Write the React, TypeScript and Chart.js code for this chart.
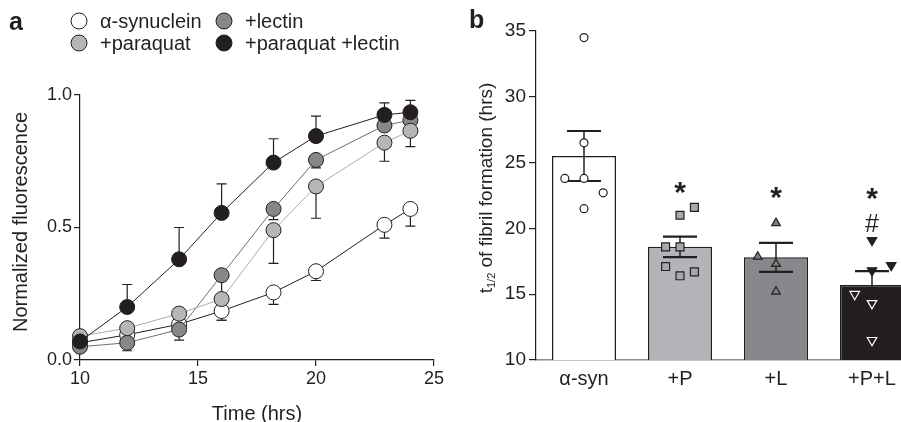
import React, { useEffect, useRef } from 'react';
import { Chart, registerables } from 'chart.js';

Chart.register(...registerables);

const FONT = '"Liberation Sans", Arial, Helvetica, sans-serif';
const INK = '#231f20';

// ---------- Panel a: fluorescence time course ----------
const timePoints = [10, 12, 14.2, 16, 18.2, 20, 22.9, 24];
const synuclein = [0.065, 0.095, 0.135, 0.185, 0.255, 0.335, 0.51, 0.57];
const synucleinErrDown = [0, 0, 0.03, 0.035, 0.045, 0.035, 0.05, 0.065];
const paraquat = [0.09, 0.12, 0.175, 0.23, 0.49, 0.655, 0.82, 0.865];
const paraquatErrDown = [0, 0, 0, 0.08, 0.125, 0.12, 0.07, 0.06];
const lectin = [0.05, 0.065, 0.115, 0.32, 0.57, 0.755, 0.885, 0.905];
const lectinErrDown = [0, 0.03, 0.04, 0.1, 0.04, 0.03, 0.02, 0.02];
const paraquatLectin = [0.07, 0.2, 0.38, 0.555, 0.745, 0.845, 0.925, 0.935];
const paraquatLectinErrUp = [0, 0.085, 0.12, 0.11, 0.09, 0.075, 0.045, 0.045];
const legendLabels = ['α-synuclein', '+lectin', '+paraquat', '+paraquat +lectin'];

// ---------- Panel b: t1/2 of fibril formation ----------
const groups = ['α-syn', '+P', '+L', '+P+L'];
const groupMeans = [25.5, 18.6, 17.8, 15.7];
const groupSem = [1.9, 0.78, 1.1, 1.06];
const synPoints = [34.5, 26.5, 23.8, 23.8, 22.7, 21.5];
const synJitter = [0, 0, -0.2, 0, 0.2, 0];
const pPoints = [21.0, 21.6, 18.6, 18.6, 17.1, 16.7, 16.4];
const pJitter = [0, 0.15, -0.15, 0, -0.15, 0.15, 0];
const lPoints = [20.4, 17.85, 17.3, 15.2];
const lJitter = [0, -0.19, 0, 0];
const plPoints = [19.1, 16.8, 17.2, 15.0, 14.3, 11.5];
const plJitter = [0, 0, 0.2, -0.18, 0, 0];
const marks = [
  { group: 1, value: 23.1, text: '*' },
  { group: 2, value: 22.7, text: '*' },
  { group: 3, value: 22.6, text: '*' },
  { group: 3, value: 20.4, text: '#' },
];

const seriesA = [
  { label: legendLabels[3], values: paraquatLectin, up: paraquatLectinErrUp, down: null, fill: '#231f20', line: '#231f20' },
  { label: legendLabels[2], values: paraquat, up: null, down: paraquatErrDown, fill: '#b5b6b8', line: '#a9abae' },
  { label: legendLabels[1], values: lectin, up: null, down: lectinErrDown, fill: '#86878a', line: '#6d6e71' },
  { label: legendLabels[0], values: synuclein, up: null, down: synucleinErrDown, fill: '#ffffff', line: '#231f20' },
];

function drawVTitle(ctx: CanvasRenderingContext2D, cx: number, cy: number, parts: { t: string; size: number; dy: number }[]) {
  ctx.save();
  ctx.translate(cx, cy);
  ctx.rotate(-Math.PI / 2);
  ctx.fillStyle = INK;
  ctx.textBaseline = 'alphabetic';
  ctx.textAlign = 'left';
  let total = 0;
  const widths = parts.map((p) => {
    ctx.font = `${p.size}px ${FONT}`;
    const w = ctx.measureText(p.t).width;
    total += w;
    return w;
  });
  let x = -total / 2;
  parts.forEach((p, i) => {
    ctx.font = `${p.size}px ${FONT}`;
    ctx.fillText(p.t, x, 7 + p.dy);
    x += widths[i];
  });
  ctx.restore();
}

const panelAPlugin = {
  id: 'panelA',
  beforeDatasetsDraw(chart: any) {
    const ctx = chart.ctx as CanvasRenderingContext2D;
    const ys = chart.scales.y;
    ctx.save();
    ctx.strokeStyle = INK;
    ctx.lineWidth = 1.2;
    seriesA.forEach((s, di) => {
      const meta = chart.getDatasetMeta(di);
      meta.data.forEach((pt: any, i: number) => {
        const v = s.values[i];
        const errs: number[] = [];
        if (s.up && s.up[i] > 0) errs.push(v + s.up[i]);
        if (s.down && s.down[i] > 0) errs.push(v - s.down[i]);
        errs.forEach((e) => {
          const ey = ys.getPixelForValue(e);
          ctx.beginPath();
          ctx.moveTo(pt.x, pt.y);
          ctx.lineTo(pt.x, ey);
          ctx.moveTo(pt.x - 5, ey);
          ctx.lineTo(pt.x + 5, ey);
          ctx.stroke();
        });
      });
    });
    ctx.restore();
  },
  afterDraw(chart: any) {
    const ctx = chart.ctx as CanvasRenderingContext2D;
    const area = chart.chartArea;
    ctx.save();
    ctx.fillStyle = INK;
    ctx.font = `bold 25px ${FONT}`;
    ctx.textBaseline = 'middle';
    ctx.textAlign = 'left';
    ctx.fillText('a', 9, 23);
    const items = [
      { s: seriesA[3], x: 79, y: 21 },
      { s: seriesA[2], x: 224, y: 21 },
      { s: seriesA[1], x: 79, y: 43 },
      { s: seriesA[0], x: 224, y: 43 },
    ];
    items.forEach((it) => {
      ctx.beginPath();
      ctx.arc(it.x, it.y, 8, 0, Math.PI * 2);
      ctx.fillStyle = it.s.fill;
      ctx.fill();
      ctx.lineWidth = 1;
      ctx.strokeStyle = INK;
      ctx.stroke();
      ctx.fillStyle = INK;
      ctx.font = `20px ${FONT}`;
      ctx.textBaseline = 'middle';
      ctx.fillText(it.s.label, it.x + 21, it.y + 1);
    });
    ctx.font = `20px ${FONT}`;
    ctx.textAlign = 'center';
    ctx.textBaseline = 'middle';
    ctx.fillText('Time (hrs)', (area.left + area.right) / 2, 414);
    ctx.restore();
    drawVTitle(ctx, 20, 222, [{ t: 'Normalized fluorescence', size: 20, dy: 0 }]);
  },
};

const panelBPlugin = {
  id: 'panelB',
  afterDatasetDraw(chart: any, args: any) {
    if (args.index !== 0) return;
    const ctx = chart.ctx as CanvasRenderingContext2D;
    const ys = chart.scales.y;
    const meta = chart.getDatasetMeta(0);
    ctx.save();
    ctx.strokeStyle = INK;
    meta.data.forEach((bar: any, i: number) => {
      const top = ys.getPixelForValue(groupMeans[i] + groupSem[i]);
      const bot = ys.getPixelForValue(groupMeans[i] - groupSem[i]);
      ctx.lineWidth = 1.5;
      ctx.beginPath();
      ctx.moveTo(bar.x, top);
      ctx.lineTo(bar.x, bot);
      ctx.stroke();
      ctx.lineWidth = 2.2;
      ctx.beginPath();
      ctx.moveTo(bar.x - 17, top);
      ctx.lineTo(bar.x + 17, top);
      ctx.moveTo(bar.x - 17, bot);
      ctx.lineTo(bar.x + 17, bot);
      ctx.stroke();
    });
    ctx.restore();
  },
  afterDraw(chart: any) {
    const ctx = chart.ctx as CanvasRenderingContext2D;
    const xs = chart.scales.xs;
    const ys = chart.scales.y;
    ctx.save();
    ctx.fillStyle = INK;
    ctx.textAlign = 'center';
    ctx.textBaseline = 'alphabetic';
    marks.forEach((m) => {
      ctx.font = m.text === '*' ? `bold 30px ${FONT}` : `25px ${FONT}`;
      const mt = ctx.measureText(m.text);
      const cx = xs.getPixelForValue(m.group);
      const cy = ys.getPixelForValue(m.value);
      const base = cy + (mt.actualBoundingBoxAscent - mt.actualBoundingBoxDescent) / 2;
      ctx.fillText(m.text, cx, base);
    });
    ctx.font = `bold 25px ${FONT}`;
    ctx.textAlign = 'left';
    ctx.textBaseline = 'middle';
    ctx.fillText('b', 9, 21);
    ctx.restore();
    drawVTitle(ctx, 25, 188, [
      { t: 't', size: 19, dy: 0 },
      { t: '1/2', size: 11, dy: 3 },
      { t: ' of fibril formation (hrs)', size: 19, dy: 0 },
    ]);
  },
};

function makeConfigA(): any {
  return {
    type: 'line',
    data: {
      datasets: seriesA.map((s) => ({
        label: s.label,
        data: timePoints.map((t, i) => ({ x: t, y: s.values[i] })),
        borderColor: s.line,
        borderWidth: 1,
        backgroundColor: s.fill,
        pointBackgroundColor: s.fill,
        pointBorderColor: INK,
        pointBorderWidth: 1,
        pointRadius: 7.5,
        pointHoverRadius: 7.5,
        tension: 0,
        clip: false,
      })),
    },
    options: {
      responsive: false,
      animation: false,
      devicePixelRatio: 1,
      events: [],
      layout: { padding: { top: 95, left: 0, right: 26, bottom: 0 } },
      plugins: { legend: { display: false }, tooltip: { enabled: false } },
      scales: {
        x: {
          type: 'linear',
          min: 10,
          max: 25,
          afterFit: (s: any) => { s.height = 62; },
          ticks: { stepSize: 5, font: { family: FONT, size: 18 }, color: INK, padding: 2 },
          grid: { drawOnChartArea: false, drawTicks: true, tickLength: 6, color: INK, lineWidth: 1.2 },
          border: { display: true, color: INK, width: 1.2 },
        },
        y: {
          min: 0,
          max: 1,
          afterFit: (s: any) => { s.width = 80; },
          ticks: { stepSize: 0.5, font: { family: FONT, size: 18 }, color: INK, padding: 2, callback: (v: number) => v.toFixed(1) },
          grid: { drawOnChartArea: false, drawTicks: true, tickLength: 6, color: INK, lineWidth: 1.2 },
          border: { display: true, color: INK, width: 1.2 },
        },
      },
    },
    plugins: [panelAPlugin],
  };
}

function scatterSet(values: number[], jitter: number[], group: number, style: any) {
  return {
    type: 'scatter',
    xAxisID: 'xs',
    order: 0,
    data: values.map((v, i) => ({ x: group + jitter[i], y: v })),
    clip: false,
    ...style,
  };
}

function makeConfigB(): any {
  return {
    type: 'bar',
    data: {
      labels: groups,
      datasets: [
        {
          type: 'bar',
          order: 10,
          grouped: false,
          data: groupMeans,
          backgroundColor: ['#ffffff', '#b3b4b7', '#87888b', '#231f20'],
          borderColor: INK,
          borderWidth: 1.5,
          barPercentage: 0.667,
          categoryPercentage: 1,
        },
        scatterSet(synPoints, synJitter, 0, {
          pointStyle: 'circle', pointRadius: 4, pointBackgroundColor: '#ffffff', pointBorderColor: INK, pointBorderWidth: 1.2,
        }),
        scatterSet(pPoints, pJitter, 1, {
          pointStyle: 'rect', pointRadius: 5.6, pointBackgroundColor: '#a8a9ac', pointBorderColor: INK, pointBorderWidth: 1.2,
        }),
        scatterSet(lPoints, lJitter, 2, {
          pointStyle: 'triangle', pointRadius: 5, pointBackgroundColor: '#7e7f82', pointBorderColor: INK, pointBorderWidth: 1.2,
        }),
        scatterSet(plPoints, plJitter, 3, {
          pointStyle: 'triangle', pointRotation: 180, pointRadius: 5.5, pointBackgroundColor: '#231f20',
          pointBorderColor: (c: any) => (c.raw && c.raw.y > groupMeans[3] ? INK : '#ffffff'),
          pointBorderWidth: 1.2,
        }),
      ],
    },
    options: {
      responsive: false,
      animation: false,
      devicePixelRatio: 1,
      events: [],
      layout: { padding: { top: 31, left: 0, right: 10, bottom: 0 } },
      plugins: { legend: { display: false }, tooltip: { enabled: false } },
      scales: {
        x: {
          type: 'category',
          offset: true,
          afterFit: (s: any) => { s.height = 62; },
          ticks: { font: { family: FONT, size: 20 }, color: INK, padding: 7 },
          grid: { display: true, drawOnChartArea: false, drawTicks: false, color: 'rgba(0,0,0,0)' },
          border: { display: true, color: '#8c8c8c', width: 1.6 },
        },
        xs: { type: 'linear', min: -0.5, max: 3.5, offset: false, grid: { offset: false }, display: false },
        y: {
          min: 10,
          max: 35,
          afterFit: (s: any) => { s.width = 76; },
          ticks: { stepSize: 5, font: { family: FONT, size: 19 }, color: INK, padding: 3 },
          grid: { drawOnChartArea: false, drawTicks: true, tickLength: 7, color: INK, lineWidth: 1.2 },
          border: { display: true, color: INK, width: 1.2 },
        },
      },
    },
    plugins: [panelBPlugin],
  };
}

export default function App() {
  const refA = useRef<HTMLCanvasElement>(null);
  const refB = useRef<HTMLCanvasElement>(null);
  useEffect(() => {
    const a = new Chart(refA.current as HTMLCanvasElement, makeConfigA());
    const b = new Chart(refB.current as HTMLCanvasElement, makeConfigB());
    return () => {
      a.destroy();
      b.destroy();
    };
  }, []);
  return (
    <div style={{ position: 'absolute', left: 0, top: 0, width: 901, height: 422, overflow: 'hidden', background: '#ffffff' }}>
      <canvas ref={refA} width={460} height={422} style={{ position: 'absolute', left: 0, top: 0, width: 460, height: 422 }} />
      <canvas ref={refB} width={470} height={422} style={{ position: 'absolute', left: 460, top: 0, width: 470, height: 422 }} />
    </div>
  );
}
